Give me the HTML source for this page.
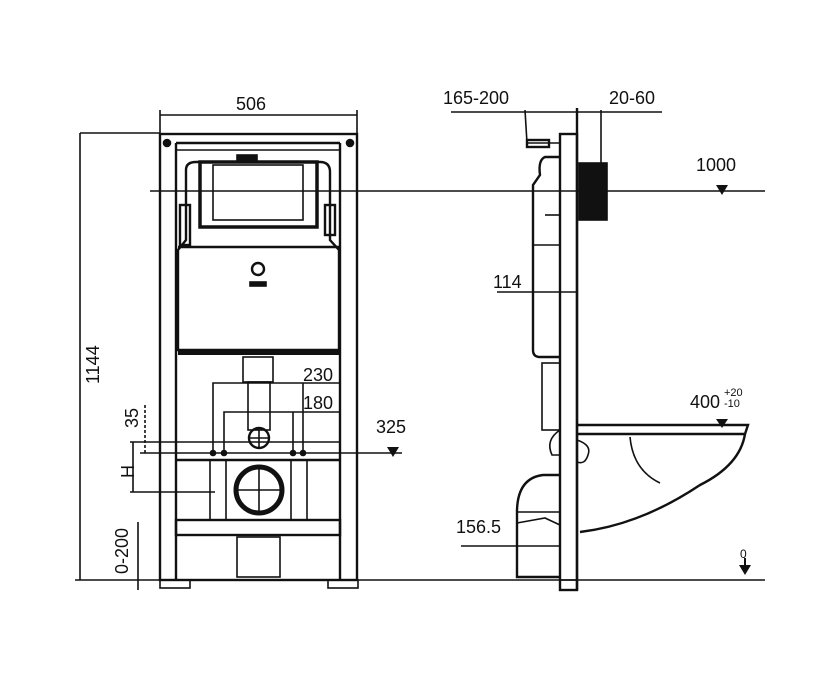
<!DOCTYPE html>
<html><head><meta charset="utf-8"><style>
html,body{margin:0;padding:0;background:#fff;}
svg{display:block}
text{font-family:"Liberation Sans",sans-serif;font-size:18px;fill:#111;}
</style></head><body>
<svg width="824" height="682" viewBox="0 0 824 682" xmlns="http://www.w3.org/2000/svg">
<g stroke="#111" fill="none" stroke-width="1.6">
<line x1="80" y1="133" x2="160" y2="133"/>
<line x1="80" y1="133" x2="80" y2="580"/>
<line x1="160" y1="115" x2="357" y2="115"/>
<line x1="160" y1="110" x2="160" y2="134"/>
<line x1="357" y1="110" x2="357" y2="134"/>
<line x1="150" y1="191" x2="765" y2="191"/>
<line x1="75" y1="580" x2="765" y2="580"/>
<rect x="160" y="134" width="197" height="446" stroke-width="2.4"/>
<line x1="176" y1="143" x2="176" y2="580" stroke-width="2.4"/>
<line x1="340" y1="143" x2="340" y2="580" stroke-width="2.4"/>
<line x1="176" y1="143" x2="340" y2="143" stroke-width="2.4"/>
<line x1="176" y1="150" x2="340" y2="150"/>
<circle cx="167" cy="143" r="3.5" fill="#111"/>
<circle cx="350" cy="143" r="3.5" fill="#111"/>
<path d="M178 350 V250 L186 240 V170 Q186 162 196 162 H320 Q330 162 330 172 V240 L339 250 V350 Z" stroke-width="2.4"/>
<line x1="178" y1="247" x2="339" y2="247" stroke-width="2.4"/>
<rect x="200" y="162" width="117" height="65" stroke-width="3.5"/>
<rect x="213" y="165" width="90" height="55"/>
<rect x="237" y="155" width="20" height="7" fill="#111"/>
<rect x="178" y="350" width="161" height="5" fill="#111" stroke="none"/>
<circle cx="258" cy="269" r="6" stroke-width="2.4"/>
<rect x="250" y="282" width="16" height="4" fill="#111"/>
<rect x="180" y="205" width="10" height="40" stroke-width="2.4"/>
<rect x="325" y="205" width="10" height="30" stroke-width="2.4"/>
<rect x="243" y="357" width="30" height="25"/>
<rect x="248" y="382" width="22" height="48"/>
<circle cx="259" cy="438" r="10" stroke-width="2.4"/>
<line x1="249" y1="438" x2="269" y2="438"/><line x1="259" y1="428" x2="259" y2="448"/>
<line x1="176" y1="442" x2="340" y2="442"/>
<line x1="176" y1="460" x2="340" y2="460" stroke-width="2.4"/>
<rect x="176" y="520" width="164" height="15" stroke-width="2.4"/>
<line x1="210" y1="460" x2="210" y2="520"/><line x1="226" y1="460" x2="226" y2="520"/>
<line x1="291" y1="460" x2="291" y2="520"/><line x1="307" y1="460" x2="307" y2="520"/>
<circle cx="259" cy="490" r="23" stroke-width="5"/>
<line x1="236" y1="490" x2="282" y2="490"/><line x1="259" y1="467" x2="259" y2="513"/>
<rect x="237" y="537" width="43" height="40"/>
<rect x="160" y="580" width="30" height="8"/><rect x="328" y="580" width="30" height="8"/>
<polyline points="213,453 213,383 340,383"/><line x1="303" y1="383" x2="303" y2="453"/>
<polyline points="224,453 224,412 340,412"/><line x1="293" y1="412" x2="293" y2="453"/>
<circle cx="213" cy="453" r="2.5" fill="#111"/><circle cx="224" cy="453" r="2.5" fill="#111"/>
<circle cx="293" cy="453" r="2.5" fill="#111"/><circle cx="303" cy="453" r="2.5" fill="#111"/>
<line x1="140" y1="453" x2="402" y2="453"/>
<line x1="130" y1="442" x2="176" y2="442"/>
<line x1="145" y1="405" x2="145" y2="453" stroke-dasharray="3 2"/>
<line x1="133" y1="442" x2="133" y2="492"/>
<line x1="130" y1="492" x2="215" y2="492"/>
<line x1="138" y1="522" x2="138" y2="590"/>
<line x1="451" y1="112" x2="662" y2="112"/>
<line x1="577" y1="108" x2="577" y2="590" stroke-width="2.4"/>
<line x1="601" y1="110" x2="601" y2="165"/>
<rect x="560" y="134" width="17" height="456" stroke-width="2.4"/>
<rect x="579" y="163" width="28" height="57" fill="#111"/>
<polyline points="525,110 527,143 560,143"/>
<rect x="527" y="140" width="22" height="7" stroke-width="2.4"/>
<path d="M560 157 H545 Q538 160 540 175 L533 185 V350 Q533 357 540 357 H560" stroke-width="2.4"/>
<line x1="533" y1="245" x2="560" y2="245"/>
<line x1="545" y1="215" x2="560" y2="215"/>
<rect x="542" y="363" width="18" height="67"/>
<path d="M560 430 Q545 440 552 455 H560"/>
<line x1="497" y1="292" x2="577" y2="292"/>
<path d="M577 425 H748 L745 434 H577" stroke-width="2.4"/>
<path d="M745 434 Q740 465 700 485 Q640 525 580 532" stroke-width="2.4"/>
<path d="M630 437 Q633 470 660 483"/>
<path d="M577 440 Q592 445 588 455 Q585 465 577 462"/>
<path d="M560 475 H543 Q518 478 517 510 V577 H560" stroke-width="2.4"/>
<line x1="517" y1="512" x2="560" y2="512"/>
<path d="M517 523 L545 518 L560 525"/>
<line x1="461" y1="546" x2="560" y2="546"/>
<rect x="560" y="580" width="17" height="10"/>
</g>
<g fill="#111">
<polygon points="716,185 728,185 722,195"/>
<polygon points="716,419 728,419 722,428"/>
<polygon points="387,447 399,447 393,457"/>
<polygon points="739,565 751,565 745,575"/>
<rect x="744" y="558" width="2" height="9"/>
</g>
<text x="236" y="110">506</text>
<text x="0" y="0" transform="translate(99,384) rotate(-90)">1144</text>
<text x="696" y="171">1000</text>
<text x="443" y="104">165-200</text>
<text x="609" y="104">20-60</text>
<text x="493" y="288">114</text>
<text x="303" y="381">230</text>
<text x="303" y="409">180</text>
<text x="376" y="433">325</text>
<text x="0" y="0" transform="translate(138,428) rotate(-90)">35</text>
<text x="0" y="0" transform="translate(134,478) rotate(-90)">H</text>
<text x="0" y="0" transform="translate(128,574) rotate(-90)">0-200</text>
<text x="690" y="408">400</text>
<text x="724" y="396" style="font-size:11px">+20</text>
<text x="724" y="407" style="font-size:11px">-10</text>
<text x="456" y="533">156.5</text>
<text x="740" y="558" style="font-size:12px">0</text>
</svg>
</body></html>
